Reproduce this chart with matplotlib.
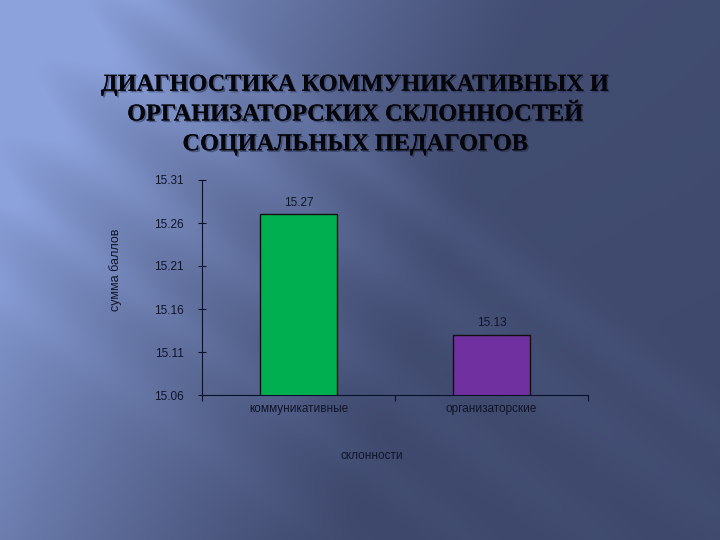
import numpy as np
import matplotlib.pyplot as plt
import matplotlib.patheffects as pe

# --- datos ---
categories = ["коммуникативные", "организаторские"]
values = [15.27, 15.13]
bar_colors = ["#00b050", "#7030a0"]
yticks = [15.06, 15.11, 15.16, 15.21, 15.26, 15.31]

title = "ДИАГНОСТИКА КОММУНИКАТИВНЫХ И\nОРГАНИЗАТОРСКИХ СКЛОННОСТЕЙ\nСОЦИАЛЬНЫХ ПЕДАГОГОВ"
ylabel = "сумма баллов"
xlabel = "склонности"

W, H = 720, 540
fig = plt.figure(figsize=(7.2, 5.4), dpi=100)

# --- fondo degradado con rayas diagonales ---
X, Y = np.meshgrid(np.arange(W), np.arange(H))
dark = np.array([62, 72, 108]) / 255
light = np.array([140, 162, 220]) / 255
w = np.clip(1 - X / W * 1.35 - Y / H * 0.35, 0, 1) ** 1.2
w = w + 0.12 * (1 - Y / H) * np.clip(1 - X / W * 0.6, 0, 1)

a = np.deg2rad(37)
along = X * np.cos(a) + Y * np.sin(a)
perp = -X * np.sin(a) + Y * np.cos(a)
for p0, s, amp, fade in [(-90, 22, 0.22, 550), (-20, 30, 0.25, 500), (70, 25, 0.22, 450),
                         (150, 20, 0.18, 420), (230, 25, 0.15, 380)]:
    w = w + amp * np.exp(-((perp - p0) / s) ** 2) * np.exp(-along / fade)
w = np.clip(w, 0, 1)
img = dark[None, None, :] + (light - dark)[None, None, :] * w[:, :, None]

bg = fig.add_axes([0, 0, 1, 1], zorder=-1)
bg.imshow(img, aspect="auto", extent=[0, 1, 0, 1])
bg.axis("off")

# --- título ---
fig.text(0.493, 1 - 115 / H, title, ha="center", va="center", fontsize=17.5,
         fontweight="bold", family="Liberation Serif", color="#05050a",
         linespacing=1.55,
         path_effects=[pe.withSimplePatchShadow(offset=(1.2, -1.2), shadow_rgbFace="#202848", alpha=0.5), pe.Normal()])

# --- gráfica ---
ax = fig.add_axes([202 / W, 1 - 395 / H, 386 / W, 215 / H])
ax.set_facecolor("none")
x = np.arange(len(categories))
ax.bar(x, values, width=0.4, color=bar_colors, edgecolor="#101010", linewidth=1, zorder=2)
for xi, v in zip(x, values):
    ax.annotate(f"{v:.2f}", (xi, v), xytext=(0, 4), textcoords="offset points",
                ha="center", va="bottom", fontsize=8.5, family="Liberation Sans", color="#10142a")

ax.set_xlim(-0.5, 1.5)
ax.set_ylim(yticks[0], yticks[-1])
ax.set_yticks(yticks)
ax.set_yticklabels([f"{t:.2f}" for t in yticks], fontsize=8.5, family="Liberation Sans", color="#10142a")
ax.set_xticks([-0.5, 0.5, 1.5])
ax.set_xticklabels([])
ax.set_xticks(x, minor=True)
ax.set_xticklabels(categories, minor=True, fontsize=8.5, family="Liberation Sans", color="#10142a")
ax.tick_params(axis="x", which="minor", length=0, pad=6)
ax.tick_params(axis="x", which="major", direction="out", length=4, color="#0a0f2a")
ax.tick_params(axis="y", direction="inout", length=6, color="#0a0f2a", pad=10)

for side in ["top", "right"]:
    ax.spines[side].set_visible(False)
for side in ["left", "bottom"]:
    ax.spines[side].set_color("#0a0f2a")

fig.text(116 / W, 1 - 270 / H, ylabel, rotation=90, ha="center", va="center",
         fontsize=9, family="Liberation Sans", color="#10142a")
fig.text(372 / W, 1 - 456 / H, xlabel, ha="center", va="center",
         fontsize=8.5, family="Liberation Sans", color="#10142a")

fig.savefig("out.png", dpi=100)
